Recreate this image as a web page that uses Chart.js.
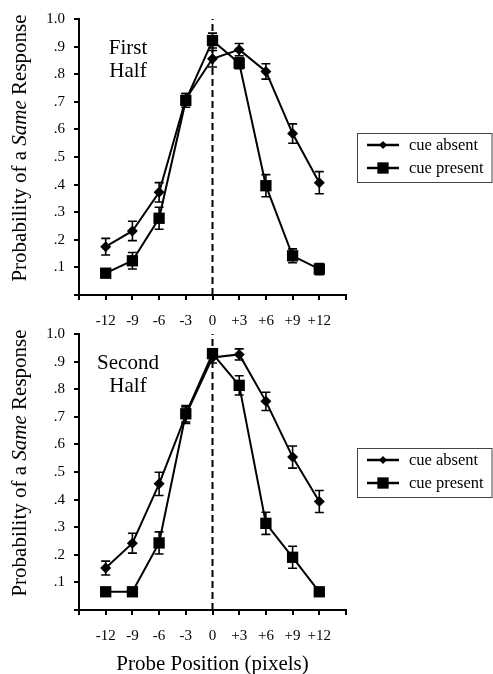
<!DOCTYPE html>
<html>
<head>
<meta charset="utf-8">
<title>Probability of a Same Response</title>
<script src="https://cdn.jsdelivr.net/npm/chart.js"></script>
<style>
  html, body { margin: 0; padding: 0; background: #fff; }
  #wrap { position: relative; width: 493px; height: 674px; overflow: hidden; }
  canvas { position: absolute; left: 0; }
  #chart-first { top: 0; }
  #chart-second { top: 310px; }
</style>
</head>
<body>
<div id="wrap">
  <canvas id="chart-first" width="493" height="337"></canvas>
  <canvas id="chart-second" width="493" height="364"></canvas>
</div>
<script>
var positions = [-12, -9, -6, -3, 0, 3, 6, 9, 12];
var seriesLabels = ["cue absent", "cue present"];
var yTickValues = [0, 0.1, 0.2, 0.3, 0.4, 0.5, 0.6, 0.7, 0.8, 0.9, 1.0];

var firstAbsent = [0.175, 0.232, 0.372, 0.71, 0.856, 0.889, 0.81, 0.585, 0.407];
var firstAbsentErr = [0.03, 0.035, 0.035, 0.02, 0.03, 0.022, 0.028, 0.035, 0.04];
var firstPresent = [0.079, 0.124, 0.278, 0.705, 0.922, 0.84, 0.396, 0.142, 0.094];
var firstPresentErr = [0.01, 0.03, 0.04, 0.025, 0.027, 0.02, 0.04, 0.025, 0.02];

var secondAbsent = [0.152, 0.242, 0.457, 0.706, 0.915, 0.926, 0.756, 0.554, 0.393];
var secondAbsentErr = [0.025, 0.036, 0.042, 0.03, 0.02, 0.02, 0.033, 0.04, 0.04];
var secondPresent = [0.066, 0.066, 0.243, 0.711, 0.929, 0.814, 0.314, 0.191, 0.066];
var secondPresentErr = [0, 0, 0.04, 0.03, 0.015, 0.035, 0.04, 0.04, 0];

var serif = "'Liberation Serif', 'Times New Roman', serif";

function toPoints(values) {
  return positions.map(function(p, i) {
    return { x: p, y: values[i] };
  });
}

function formatY(v) {
  if (Math.abs(v) < 1e-9) return "";
  if (Math.abs(v - 1) < 1e-9) return "1.0";
  return "." + Math.round(v * 10);
}

function formatX(v) {
  if (v === -15 || v === 15) return "";
  if (v > 0) return "+" + v;
  return String(v);
}

// error bars, drawn from each dataset's errorBars array
var errorBarPlugin = {
  id: "errorBars",
  afterDatasetsDraw: function(chart) {
    var ctx = chart.ctx;
    var yScale = chart.scales.y;
    ctx.save();
    ctx.strokeStyle = "#000";
    ctx.lineWidth = 1.6;
    chart.data.datasets.forEach(function(ds, i) {
      if (!ds.errorBars) return;
      var meta = chart.getDatasetMeta(i);
      meta.data.forEach(function(pt, j) {
        var e = ds.errorBars[j];
        if (!e) return;
        var v = ds.data[j].y;
        var top = yScale.getPixelForValue(v + e);
        var bot = yScale.getPixelForValue(v - e);
        ctx.beginPath();
        ctx.moveTo(pt.x, top); ctx.lineTo(pt.x, bot);
        ctx.moveTo(pt.x - 4.5, top); ctx.lineTo(pt.x + 4.5, top);
        ctx.moveTo(pt.x - 4.5, bot); ctx.lineTo(pt.x + 4.5, bot);
        ctx.stroke();
      });
    });
    ctx.restore();
  }
};

function drawMarker(ctx, style, r, x, y) {
  ctx.beginPath();
  if (style === "rect") {
    var s = r * Math.SQRT1_2;
    ctx.rect(x - s, y - s, 2 * s, 2 * s);
  } else {
    ctx.moveTo(x, y - r); ctx.lineTo(x + r, y); ctx.lineTo(x, y + r); ctx.lineTo(x - r, y);
    ctx.closePath();
  }
  ctx.fill();
}

// boxed legend to the right of the plot, plus the panel note and the y title
var decorPlugin = {
  id: "decor",
  afterDraw: function(chart, args, opts) {
    var ctx = chart.ctx;
    var area = chart.chartArea;
    var midY = (area.top + area.bottom) / 2;
    ctx.save();

    // legend
    var boxL = area.right + 11, boxR = chart.width - 1;
    var boxT = Math.round(midY - 24.5) + 0.5, boxH = 49;
    ctx.strokeStyle = "#444";
    ctx.lineWidth = 1;
    ctx.strokeRect(boxL + 0.5, boxT, boxR - boxL - 0.5, boxH);
    ctx.font = "16.5px " + serif;
    ctx.textBaseline = "middle";
    ctx.textAlign = "left";
    chart.data.datasets.forEach(function(ds, i) {
      if (!ds.label) return;
      var rowY = boxT + 11.5 + i * 23;
      ctx.strokeStyle = "#000";
      ctx.fillStyle = "#000";
      ctx.lineWidth = 2.5;
      ctx.beginPath();
      ctx.moveTo(boxL + 10, rowY); ctx.lineTo(boxL + 42, rowY);
      ctx.stroke();
      drawMarker(ctx, ds.pointStyle, ds.pointStyle === "rect" ? 8 : 4, boxL + 26, rowY);
      ctx.fillText(ds.label, boxL + 52, rowY + 1);
    });

    // panel note
    ctx.font = "21px " + serif;
    ctx.textAlign = "center";
    ctx.fillStyle = "#000";
    opts.note.forEach(function(line, i) {
      ctx.fillText(line, area.left + 49, area.top + 29 + i * 23);
    });

    // y axis title with italic word
    var parts = [
      { t: "Probability of a ", f: "21px " + serif },
      { t: "Same", f: "italic 21px " + serif },
      { t: " Response", f: "21px " + serif }
    ];
    var total = 0;
    parts.forEach(function(p) { ctx.font = p.f; p.w = ctx.measureText(p.t).width; total += p.w; });
    ctx.translate(20, midY - 9);
    ctx.rotate(-Math.PI / 2);
    ctx.textAlign = "left";
    var x = -total / 2;
    parts.forEach(function(p) { ctx.font = p.f; ctx.fillText(p.t, x, 0); x += p.w; });
    ctx.restore();
  }
};

function makeChart(canvasId, absent, absentErr, present, presentErr, note, padTop, xHeight, showXTitle) {
  var tickFont = { family: serif, size: 15 };
  return new Chart(document.getElementById(canvasId).getContext("2d"), {
    type: "line",
    data: {
      datasets: [
        {
          label: seriesLabels[0],
          data: toPoints(absent),
          errorBars: absentErr,
          borderColor: "#000",
          backgroundColor: "#000",
          borderWidth: 2,
          pointStyle: "rectRot",
          pointRadius: 5.5,
          pointBorderWidth: 0,
          tension: 0
        },
        {
          label: seriesLabels[1],
          data: toPoints(present),
          errorBars: presentErr,
          borderColor: "#000",
          backgroundColor: "#000",
          borderWidth: 2,
          pointStyle: "rect",
          pointRadius: 8,
          pointBorderWidth: 0,
          tension: 0
        },
        {
          data: [{ x: 0, y: 0 }, { x: 0, y: 1 }],
          borderColor: "#000",
          borderWidth: 2,
          borderDash: [7, 4],
          pointRadius: 0
        }
      ]
    },
    options: {
      responsive: false,
      animation: false,
      devicePixelRatio: 1,
      layout: { padding: { top: padTop, left: 0, right: 147, bottom: 0 } },
      plugins: {
        legend: { display: false },
        tooltip: { enabled: false },
        decor: { note: note }
      },
      scales: {
        x: {
          type: "linear",
          min: -15,
          max: 15,
          ticks: { stepSize: 3, padding: 12, color: "#000", font: tickFont, maxRotation: 0, autoSkip: false, callback: formatX },
          grid: { drawOnChartArea: false, drawTicks: true, tickLength: 5, color: "#000", lineWidth: 2 },
          border: { display: true, color: "#000", width: 2 },
          title: {
            display: showXTitle,
            text: "Probe Position (pixels)",
            color: "#000",
            font: { family: serif, size: 21 },
            padding: { top: 0, bottom: -3 }
          },
          afterFit: function(s) { s.height = xHeight; }
        },
        y: {
          min: 0,
          max: 1,
          afterBuildTicks: function(s) {
            s.ticks = yTickValues.map(function(v) { return { value: v }; });
          },
          ticks: { padding: 9, color: "#000", font: tickFont, callback: formatY },
          grid: { drawOnChartArea: false, drawTicks: true, tickLength: 5, color: "#000", lineWidth: 2 },
          border: { display: true, color: "#000", width: 2 },
          afterFit: function(s) { s.width = 79; }
        }
      }
    },
    plugins: [errorBarPlugin, decorPlugin]
  });
}

makeChart("chart-first", firstAbsent, firstAbsentErr, firstPresent, firstPresentErr, ["First", "Half"], 19, 42, false);
makeChart("chart-second", secondAbsent, secondAbsentErr, secondPresent, secondPresentErr, ["Second", "Half"], 24, 64, true);
</script>
</body>
</html>
